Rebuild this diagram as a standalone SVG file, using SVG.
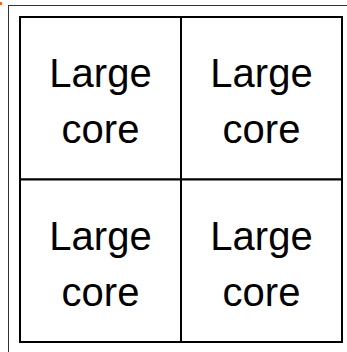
<svg xmlns="http://www.w3.org/2000/svg" width="347" height="352" viewBox="0 0 347 352">
<style>
.frame{fill:none;stroke:#333;stroke-width:1}
.cell{fill:#fff;stroke:#000;stroke-width:2}
.lbl{font-family:"Liberation Sans",Arial,sans-serif;font-size:40px;fill:#000;text-anchor:middle}
</style>
<rect x="0" y="0" width="347" height="352" fill="#fff"/>
<rect x="0" y="2" width="2" height="3" fill="#f26522"/>
<rect class="frame" x="8.5" y="5.5" width="400" height="400"/>
<g id="core-tl">
<rect class="cell" x="20" y="17" width="161" height="162.5"/>
<text class="lbl" x="100.5" y="87">Large</text>
<text class="lbl" x="100.5" y="143">core</text>
</g>
<g id="core-tr">
<rect class="cell" x="181" y="17" width="161" height="162.5"/>
<text class="lbl" x="261.5" y="87">Large</text>
<text class="lbl" x="261.5" y="143">core</text>
</g>
<g id="core-bl">
<rect class="cell" x="20" y="179.5" width="161" height="162.5"/>
<text class="lbl" x="100.5" y="249.5">Large</text>
<text class="lbl" x="100.5" y="305.5">core</text>
</g>
<g id="core-br">
<rect class="cell" x="181" y="179.5" width="161" height="162.5"/>
<text class="lbl" x="261.5" y="249.5">Large</text>
<text class="lbl" x="261.5" y="305.5">core</text>
</g>
<g id="connectors"></g>
</svg>
